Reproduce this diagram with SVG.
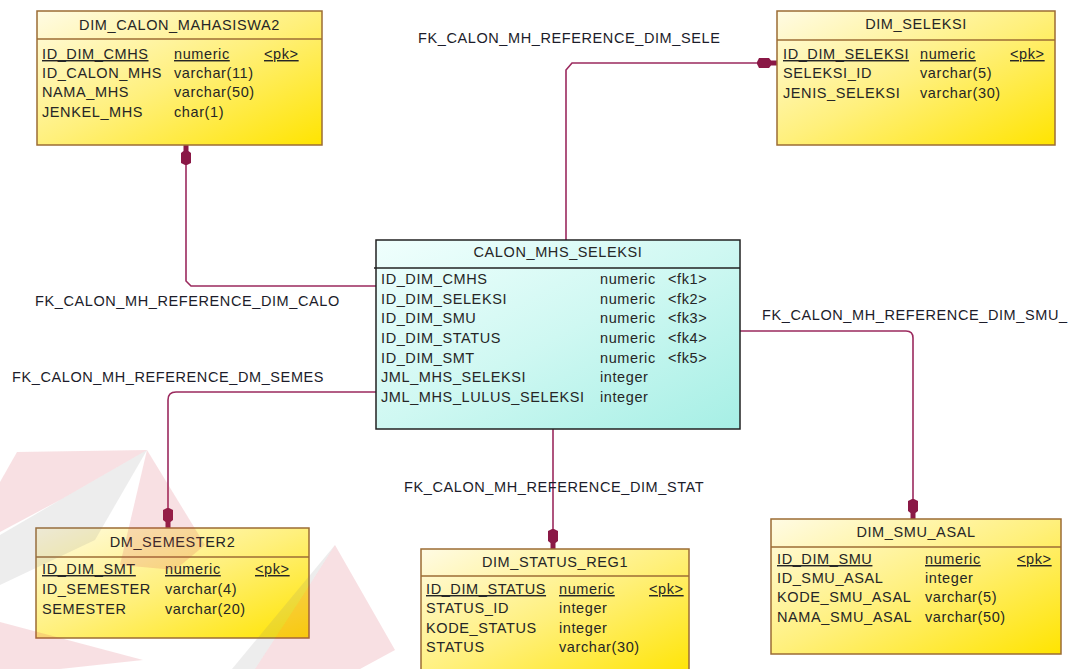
<svg xmlns="http://www.w3.org/2000/svg" width="1069" height="669" viewBox="0 0 1069 669">
<defs>
<linearGradient id="gy" x1="0" y1="0" x2="1" y2="1">
<stop offset="0" stop-color="#fffbe4"/>
<stop offset="0.5" stop-color="#fff07c"/>
<stop offset="1" stop-color="#ffe400"/>
</linearGradient>
<linearGradient id="gc" x1="0" y1="0" x2="1" y2="1">
<stop offset="0" stop-color="#f0fffd"/>
<stop offset="0.5" stop-color="#cff8f2"/>
<stop offset="1" stop-color="#a6efe5"/>
</linearGradient>
<marker id="arr" markerUnits="userSpaceOnUse" markerWidth="22" markerHeight="14" refX="20" refY="7" orient="auto" overflow="visible">
<path d="M0,6 L2,2 L12,2 L14,4.5 L20,4.5 L20,9.5 L14,9.5 L12,12 L2,12 L0,8 Z" fill="#8a1846"/>
</marker>
<style>
text{font-family:"Liberation Sans",Arial,sans-serif;font-size:14.5px;letter-spacing:0.6px;fill:#262626}
.tb{fill:url(#gy);stroke:#9c6c34;stroke-width:1.5}
.hl{stroke:#9c6c34;stroke-width:1.5}
.tc{fill:url(#gc);stroke:#222;stroke-width:1.5}
.t{text-anchor:middle}
.pk{text-decoration:underline}
.lbl{fill:#1c1c2a}
.cn{fill:none;stroke:#9b2a5e;stroke-width:1.6;marker-end:url(#arr)}
.wr{fill:#d23c50;opacity:0.16}
.wg{fill:#808080;opacity:0.14}
</style>
</defs>
<rect width="1069" height="669" fill="#ffffff"/>

<g id="connectors">
<path class="cn" d="M376,286 H191 L186,281 V145"/>
<path class="cn" d="M566,240 V70 L572,63 H777"/>
<path class="cn" d="M740,331 H906 Q913,331 913,338 V519"/>
<path class="cn" d="M376,392 H176 Q168,392 168,400 V528"/>
<path class="cn" d="M553,429 V549"/>
<text class="lbl" x="35" y="306">FK_CALON_MH_REFERENCE_DIM_CALO</text>
<text class="lbl" x="418" y="43">FK_CALON_MH_REFERENCE_DIM_SELE</text>
<text class="lbl" x="762" y="320">FK_CALON_MH_REFERENCE_DIM_SMU_</text>
<text class="lbl" x="12" y="382">FK_CALON_MH_REFERENCE_DM_SEMES</text>
<text class="lbl" x="404" y="492">FK_CALON_MH_REFERENCE_DIM_STAT</text>
</g>

<g id="DIM_CALON_MAHASISWA2">
<rect class="tb" x="37" y="11" width="285" height="134"/>
<line class="hl" x1="37" y1="39" x2="322" y2="39"/>
<text class="t" x="179.5" y="30">DIM_CALON_MAHASISWA2</text>
<text class="pk" x="42" y="59">ID_DIM_CMHS</text><text class="pk" x="174" y="59">numeric</text><text class="pk" x="264" y="59">&lt;pk&gt;</text>
<text x="42" y="78">ID_CALON_MHS</text><text x="174" y="78">varchar(11)</text>
<text x="42" y="97">NAMA_MHS</text><text x="174" y="97">varchar(50)</text>
<text x="42" y="117">JENKEL_MHS</text><text x="174" y="117">char(1)</text>
</g>

<g id="DIM_SELEKSI">
<rect class="tb" x="777" y="11" width="278" height="134"/>
<line class="hl" x1="777" y1="40" x2="1055" y2="40"/>
<text class="t" x="916" y="29">DIM_SELEKSI</text>
<text class="pk" x="783" y="59">ID_DIM_SELEKSI</text><text class="pk" x="920" y="59">numeric</text><text class="pk" x="1010" y="59">&lt;pk&gt;</text>
<text x="783" y="78">SELEKSI_ID</text><text x="920" y="78">varchar(5)</text>
<text x="783" y="98">JENIS_SELEKSI</text><text x="920" y="98">varchar(30)</text>
</g>

<g id="CALON_MHS_SELEKSI">
<rect class="tc" x="376" y="240" width="364" height="189"/>
<line x1="374" y1="268" x2="740" y2="268" stroke="#222" stroke-width="1.5"/>
<text class="t" x="558" y="257">CALON_MHS_SELEKSI</text>
<text x="381" y="284">ID_DIM_CMHS</text><text x="600" y="284">numeric</text><text x="668" y="284">&lt;fk1&gt;</text>
<text x="381" y="304">ID_DIM_SELEKSI</text><text x="600" y="304">numeric</text><text x="668" y="304">&lt;fk2&gt;</text>
<text x="381" y="323">ID_DIM_SMU</text><text x="600" y="323">numeric</text><text x="668" y="323">&lt;fk3&gt;</text>
<text x="381" y="343">ID_DIM_STATUS</text><text x="600" y="343">numeric</text><text x="668" y="343">&lt;fk4&gt;</text>
<text x="381" y="363">ID_DIM_SMT</text><text x="600" y="363">numeric</text><text x="668" y="363">&lt;fk5&gt;</text>
<text x="381" y="382">JML_MHS_SELEKSI</text><text x="600" y="382">integer</text>
<text x="381" y="402">JML_MHS_LULUS_SELEKSI</text><text x="600" y="402">integer</text>
</g>

<g id="DM_SEMESTER2">
<rect class="tb" x="36" y="528" width="273" height="110"/>
<line class="hl" x1="36" y1="557" x2="309" y2="557"/>
<text class="t" x="172.5" y="547">DM_SEMESTER2</text>
<text class="pk" x="42" y="574">ID_DIM_SMT</text><text class="pk" x="165" y="574">numeric</text><text class="pk" x="255" y="574">&lt;pk&gt;</text>
<text x="42" y="594">ID_SEMESTER</text><text x="165" y="594">varchar(4)</text>
<text x="42" y="614">SEMESTER</text><text x="165" y="614">varchar(20)</text>
</g>

<g id="DIM_STATUS_REG1">
<rect class="tb" x="421" y="549" width="268" height="130"/>
<line class="hl" x1="421" y1="576" x2="689" y2="576"/>
<text class="t" x="555" y="567">DIM_STATUS_REG1</text>
<text class="pk" x="426" y="594">ID_DIM_STATUS</text><text class="pk" x="559" y="594">numeric</text><text class="pk" x="649" y="594">&lt;pk&gt;</text>
<text x="426" y="613">STATUS_ID</text><text x="559" y="613">integer</text>
<text x="426" y="633">KODE_STATUS</text><text x="559" y="633">integer</text>
<text x="426" y="652">STATUS</text><text x="559" y="652">varchar(30)</text>
</g>

<g id="DIM_SMU_ASAL">
<rect class="tb" x="771" y="519" width="290" height="135"/>
<line class="hl" x1="771" y1="547" x2="1061" y2="547"/>
<text class="t" x="916" y="537">DIM_SMU_ASAL</text>
<text class="pk" x="777" y="564">ID_DIM_SMU</text><text class="pk" x="925" y="564">numeric</text><text class="pk" x="1017" y="564">&lt;pk&gt;</text>
<text x="777" y="583">ID_SMU_ASAL</text><text x="925" y="583">integer</text>
<text x="777" y="602">KODE_SMU_ASAL</text><text x="925" y="602">varchar(5)</text>
<text x="777" y="622">NAMA_SMU_ASAL</text><text x="925" y="622">varchar(50)</text>
</g>

<g id="watermark">
<polygon class="wr" points="17,452 147,450 60,500 0,532 0,482"/>
<polygon class="wg" points="147,450 60,500 0,535 0,585 95,540"/>
<polygon class="wr" points="147,450 205,545 175,570 120,565"/>
<polygon class="wr" points="335,545 395,650 360,669 255,669 300,600"/>
<polygon class="wg" points="335,545 300,600 255,669 232,669"/>
<polygon class="wr" points="0,622 143,660 60,669 0,669"/>
</g>
</svg>
